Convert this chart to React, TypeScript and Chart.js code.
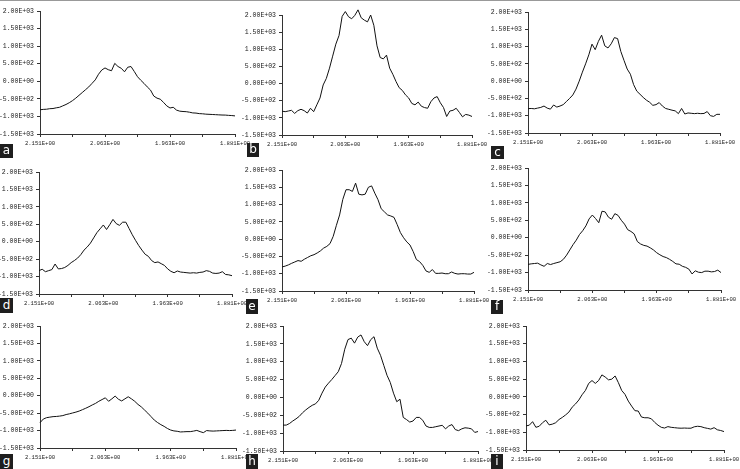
import React, { useEffect, useRef } from "react";
import { Chart, registerables } from "chart.js";

Chart.register(...registerables);

// ---- data ----
const panelLetters = ["a", "b", "c", "d", "e", "f", "g", "h", "i"];
const xTickLabels = ["2.151E+00", "", "2.063E+00", "", "1.963E+00", "", "1.881E+00"];
const yTickLabels = ["-1.50E+03", "-1.00E+03", "-5.00E+02", "0.00E+00", "5.00E+02", "1.00E+03", "1.50E+03", "2.00E+03"];

const seriesA = [-810, -800, -795, -780, -775, -755, -740, -700, -660, -610, -550, -480, -400, -320, -240, -160, -60, 40, 200, 320, 380, 330, 300, 510, 420, 370, 270, 400, 420, 280, 130, 30, -60, -160, -250, -420, -480, -510, -600, -700, -760, -740, -820, -850, -860, -865, -880, -900, -905, -920, -925, -935, -940, -945, -950, -955, -960, -962, -970, -975, -985];
const seriesB = [-805, -820, -800, -780, -870, -790, -750, -790, -860, -720, -820, -620, -420, -40, 150, 450, 800, 1150, 1400, 1960, 2100, 1950, 1890, 1990, 2150, 1920, 1850, 1800, 2000, 1700, 1100, 760, 720, 830, 450, 270, 60, -120, -200, -330, -420, -580, -620, -540, -660, -700, -720, -530, -420, -380, -560, -700, -960, -800, -780, -720, -840, -970, -900, -920, -960];
const seriesC = [-795, -790, -800, -780, -760, -720, -780, -810, -690, -750, -720, -680, -590, -500, -400, -230, 0, 260, 500, 760, 1070, 910, 1150, 1330, 1020, 960, 1080, 1260, 1230, 860, 600, 350, 200, -100, -290, -380, -470, -550, -610, -700, -680, -620, -720, -790, -815, -840, -860, -940, -790, -950, -920, -930, -940, -930, -940, -935, -880, -1000, -1020, -960, -960];
const seriesD = [-830, -790, -860, -830, -800, -640, -780, -770, -740, -680, -600, -540, -470, -370, -240, -150, -40, 110, 260, 370, 480, 350, 490, 640, 520, 470, 560, 560, 380, 200, 40, -110, -240, -360, -420, -540, -600, -580, -630, -680, -780, -850, -890, -840, -870, -880, -890, -900, -890, -900, -880, -870, -830, -850, -900, -910, -900, -860, -940, -950, -975];
const seriesE = [-805, -780, -745, -700, -660, -620, -640, -580, -530, -480, -450, -400, -340, -260, -210, -130, 80, 400, 700, 1150, 1430, 1430, 1380, 1620, 1300, 1280, 1300, 1500, 1540, 1330, 1140, 880, 790, 700, 670, 630, 420, 190, 40, -80, -170, -360, -590, -650, -760, -920, -960, -880, -990, -990, -980, -1000, -1000, -950, -990, -1010, -1000, -1000, -1010, -1010, -960];
const seriesF = [-765, -750, -740, -730, -780, -820, -740, -770, -740, -715, -690, -620, -500, -350, -200, -70, 90, 200, 340, 540, 650, 550, 430, 760, 740, 590, 530, 690, 640, 500, 390, 230, 180, 110, -110, -180, -220, -240, -290, -350, -430, -490, -540, -570, -620, -680, -750, -760, -820, -850, -900, -1040, -950, -990, -1000, -960, -960, -980, -970, -930, -1000];
const seriesG = [-775, -670, -630, -615, -600, -595, -585, -570, -540, -520, -495, -470, -440, -400, -360, -315, -265, -220, -160, -110, -60, -160, -90, -10, -100, -150, -90, -30, -90, -160, -250, -320, -410, -500, -600, -700, -770, -830, -880, -940, -985, -1010, -1020, -1040, -1035, -1030, -1030, -1015, -995, -1030, -1060, -1000, -1010, -1015, -1010, -1005, -1000, -995, -1000, -995, -985];
const seriesH = [-775, -775, -730, -660, -600, -530, -430, -350, -280, -220, -180, -80, 120, 290, 400, 500, 610, 720, 950, 1350, 1620, 1660, 1520, 1690, 1750, 1560, 1450, 1620, 1700, 1380, 1180, 900, 620, 420, 120, -120, -50, -560, -620, -690, -660, -560, -560, -640, -800, -840, -840, -820, -800, -780, -880, -800, -760, -900, -930, -880, -850, -860, -880, -980, -955];
const seriesI = [-820, -800, -700, -860, -830, -730, -660, -790, -770, -730, -640, -580, -510, -430, -290, -200, -90, 60, 180, 380, 460, 380, 460, 620, 560, 480, 500, 590, 400, 180, 70, -120, -260, -390, -400, -570, -590, -590, -620, -720, -800, -860, -880, -840, -860, -870, -880, -885, -880, -885, -885, -845, -830, -840, -870, -890, -910, -870, -930, -950, -980];

const allSeries = [seriesA, seriesB, seriesC, seriesD, seriesE, seriesF, seriesG, seriesH, seriesI];

// ---- layout (plot area edges and label boxes, in page pixels) ----
const panelGeom = [
  { l: 40, t: 10, r: 235, b: 133, bx: 0, by: 143, bw: 13, bh: 14 },
  { l: 282, t: 14, r: 472, b: 134, bx: 247, by: 142, bw: 12, bh: 14 },
  { l: 528, t: 11, r: 720, b: 132, bx: 491, by: 145, bw: 13, bh: 13 },
  { l: 39, t: 171, r: 232, b: 293, bx: 0, by: 297, bw: 13, bh: 15 },
  { l: 282, t: 169, r: 474, b: 290, bx: 246, by: 298, bw: 12, bh: 15 },
  { l: 528, t: 167, r: 721, b: 289, bx: 491, by: 299, bw: 12, bh: 14 },
  { l: 40, t: 325, r: 236, b: 447, bx: 0, by: 453, bw: 13, bh: 15 },
  { l: 283, t: 325, r: 478, b: 450, bx: 246, by: 453, bw: 12, bh: 15 },
  { l: 526, t: 325, r: 724, b: 449, bx: 491, by: 453, bw: 12, bh: 15 },
];

const PAD_L = 40;
const PAD_T = 10;
const PAD_R = 24;
const PAD_B = 22;
const yFont = { family: "'Liberation Mono', 'DejaVu Sans Mono', monospace", size: 6.5 };
const xFont = { family: "'Liberation Mono', 'DejaVu Sans Mono', monospace", size: 5.6 };

function Panel({ values, g }: { values: number[]; g: any }) {
  const ref = useRef<HTMLCanvasElement | null>(null);
  const w = g.r - g.l + PAD_L + PAD_R;
  const h = g.b - g.t + PAD_T + PAD_B;
  useEffect(() => {
    if (!ref.current) return;
    const chart = new Chart(ref.current, {
      type: "line",
      data: {
        datasets: [
          {
            data: values.map((v, i) => ({ x: i, y: v })),
            borderColor: "#111",
            borderWidth: 1,
            pointRadius: 0,
            tension: 0,
            fill: false,
            clip: false,
          },
        ],
      },
      options: {
        animation: false,
        responsive: false,
        devicePixelRatio: 1,
        layout: { padding: { left: 0, top: PAD_T, right: PAD_R, bottom: 0 } },
        plugins: { legend: { display: false }, tooltip: { enabled: false } },
        scales: {
          x: {
            type: "linear",
            min: 0,
            max: values.length - 1,
            afterBuildTicks: (s: any) => {
              s.ticks = xTickLabels.map((_, k) => ({ value: (k * (values.length - 1)) / (xTickLabels.length - 1) }));
            },
            afterFit: (s: any) => {
              s.height = PAD_B;
            },
            grid: { drawOnChartArea: false, drawTicks: true, tickLength: 3, color: "#333", tickColor: "#333" },
            border: { display: true, color: "#333", width: 1 },
            ticks: {
              autoSkip: false,
              maxRotation: 0,
              minRotation: 0,
              padding: 3,
              color: "#222",
              font: xFont,
              callback: (_v: any, idx: number) => xTickLabels[idx],
            },
          },
          y: {
            type: "linear",
            min: -1500,
            max: 2000,
            afterBuildTicks: (s: any) => {
              s.ticks = yTickLabels.map((_, k) => ({ value: -1500 + k * 500 }));
            },
            afterFit: (s: any) => {
              s.width = PAD_L;
            },
            grid: { drawOnChartArea: false, drawTicks: true, tickLength: 3, color: "#333", tickColor: "#333" },
            border: { display: true, color: "#333", width: 1 },
            ticks: {
              autoSkip: false,
              padding: 3,
              color: "#222",
              font: yFont,
              callback: (_v: any, idx: number) => yTickLabels[idx],
            },
          },
        },
      },
    });
    return () => chart.destroy();
  }, [values]);
  return (
    <canvas
      ref={ref}
      width={w}
      height={h}
      style={{ position: "absolute", left: g.l - PAD_L, top: g.t - PAD_T, width: w, height: h }}
    />
  );
}

export default function App() {
  return (
    <div
      style={{
        position: "absolute",
        left: 0,
        top: 0,
        width: 740,
        height: 469,
        background: "#fff",
        overflow: "hidden",
        borderTop: "1px solid #999",
        boxSizing: "border-box",
      }}
    >
      {allSeries.map((s, k) => (
        <Panel key={k} values={s} g={panelGeom[k]} />
      ))}
      {panelLetters.map((L, k) => {
        const g = panelGeom[k];
        return (
          <div
            key={"lb" + k}
            style={{
              position: "absolute",
              left: g.bx,
              top: g.by,
              width: g.bw,
              height: g.bh,
              background: "#1e1e1e",
              color: "#fff",
              fontFamily: "'DejaVu Sans', sans-serif",
              fontSize: 12,
              lineHeight: g.bh - 1 + "px",
              textAlign: "center",
            }}
          >
            {L}
          </div>
        );
      })}
    </div>
  );
}
